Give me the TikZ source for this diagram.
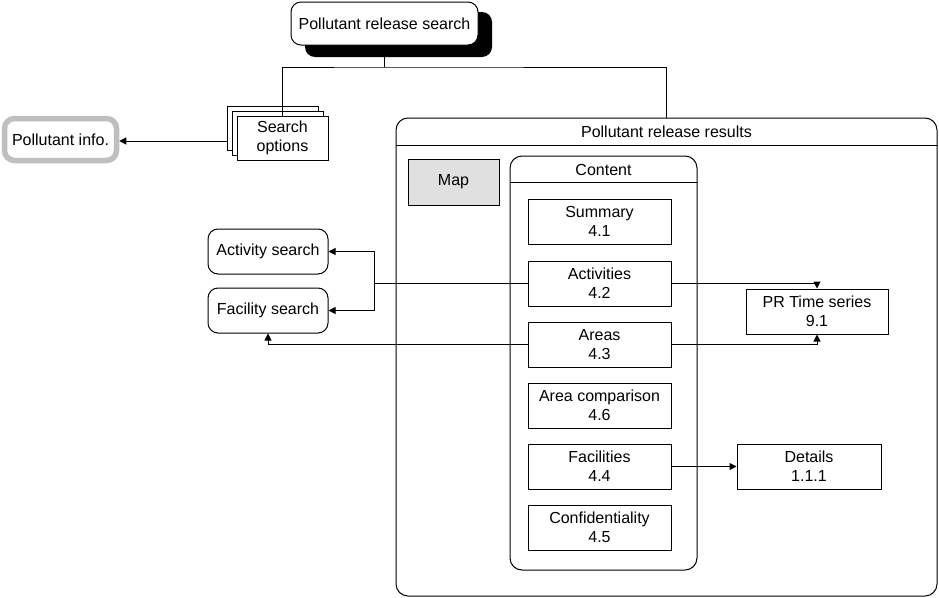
\documentclass[tikz,border=0pt]{standalone}
\usepackage{fontspec}
\setmainfont{Liberation Sans}
\usetikzlibrary{arrows.meta}
\begin{document}
\begin{tikzpicture}[x=1pt,y=-1pt,
  every node/.style={font=\fontsize{16}{19}\selectfont, align=center, inner sep=0pt},
  box/.style={draw=black, line width=1pt, fill=white},
  rbox/.style={box, rounded corners=10pt},
  inbox/.style={box, minimum width=143pt, minimum height=45pt},
  conn/.style={draw=black, line width=1pt},
  arr/.style={conn, -{Triangle[length=7pt,width=7pt]}}
]
\useasboundingbox (0,0) rectangle (939,597);

% top search with shadow
\node[fill=black, rounded corners=10pt, minimum width=187pt, minimum height=45pt] (prsh) at (398.5,34.5) {};
\node[rbox, minimum width=187pt, minimum height=43pt] (prs) at (384.5,23.5) {Pollutant release search};

% search options stack
\node[box, minimum width=91pt, minimum height=44pt] (back1) at (272.5,128) {};
\node[box, minimum width=91pt, minimum height=44pt] (back2) at (277.5,133) {};
\draw[conn] (prs.south |- prsh.south) -- (prs.south |- 0,67) coordinate (j);
\draw[conn] (282.5,116) |- (j) -| (666.5,118);
\node[box, minimum width=91pt, minimum height=44pt] (so) at (282.5,138) {Search\\options};

% pollutant info
\node[draw=black!25, line width=5.5pt, rounded corners=10pt, fill=white, minimum width=112pt, minimum height=42pt] (pinfo) at (60.5,139.5) {Pollutant info.};
\draw[arr] (back1.west |- 0,141) -- (pinfo.east |- 0,141);

% results container
\node[box, rounded corners=12pt, minimum width=541pt, minimum height=478pt] (res) at (666.5,357) {};
\draw[conn] (res.north west) ++(0,28) -- ++(541,0);
\node (restitle) at (666.5,132) {Pollutant release results};

\node[draw=black, line width=1pt, fill=black!12, minimum width=91pt, minimum height=46pt] (map) at (453.5,182) {Map};

% content container
\node[box, rounded corners=12pt, minimum width=187pt, minimum height=414pt] (content) at (603.5,363) {};
\draw[conn] (content.north west) ++(0,27) -- ++(187,0);
\node (contitle) at (603.5,170) {Content};

\node[inbox] (a41) at (599.5,221.5) {Summary\\4.1};
\node[inbox] (a42) at (599.5,283.5) {Activities\\4.2};
\node[inbox] (a43) at (599.5,344.5) {Areas\\4.3};
\node[inbox] (a46) at (599.5,405.5) {Area comparison\\4.6};
\node[inbox] (a44) at (599.5,466.5) {Facilities\\4.4};
\node[inbox] (a45) at (599.5,527.5) {Confidentiality\\4.5};

% left search boxes
\node[rbox, minimum width=120pt, minimum height=45pt] (act) at (268,251.5) {Activity search};
\node[rbox, minimum width=120pt, minimum height=45pt] (fac) at (268,310.5) {Facility search};

% right boxes
\node[box, minimum width=142pt, minimum height=45pt] (prt) at (817,311.5) {PR Time series\\9.1};
\node[box, minimum width=144pt, minimum height=45pt] (det) at (809,466.5) {Details\\1.1.1};

% connectors
\coordinate (jx) at (374,283.5);
\draw[conn] (a42.west) -- (jx);
\draw[arr] (jx) |- (act.east);
\draw[arr] (jx) |- (fac.east);
\draw[arr] (a43.west) -| (fac.south);
\draw[arr] (a42.east) -| (prt.north);
\draw[arr] (a43.east) -| (prt.south);
\draw[arr] (a44.east) -- (det.west);
\end{tikzpicture}
\end{document}
